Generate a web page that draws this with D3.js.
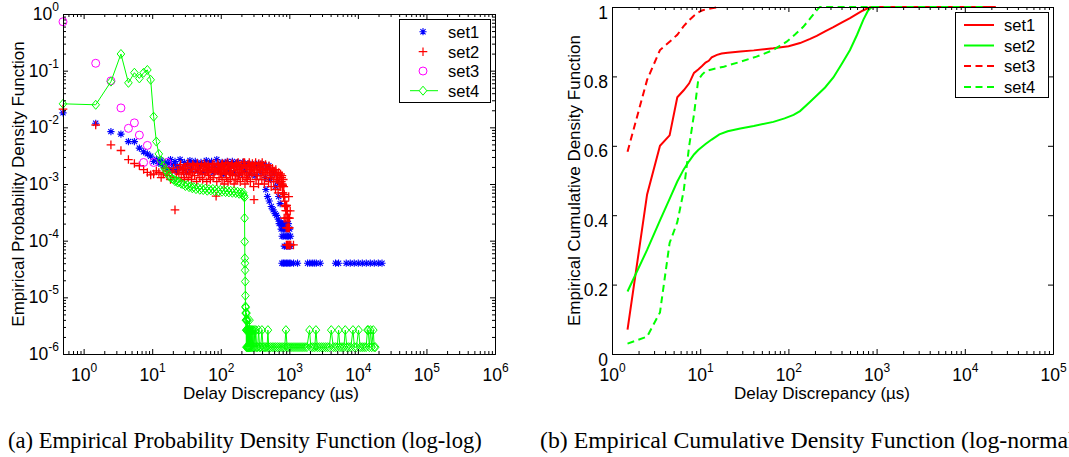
<!DOCTYPE html>
<html>
<head>
<meta charset="utf-8">
<script src="https://cdn.jsdelivr.net/npm/d3@7"></script>
<style>
  body { margin: 0; background: #fff; }
  svg { display: block; }
  text { font-family: "Liberation Sans", Arial, Helvetica, sans-serif; fill: #000; }
  .caption { font-family: "Liberation Serif", "Times New Roman", serif; }
</style>
</head>
<body>
<div id="chart"></div>
<script>
// ---- data ----
// (a) empirical pdf, [delay us, density]
const pdfSet1 = [[0.5,0.018],[1.5,0.0118],[2.5,0.0084],[3.5,0.0076],[4.5,0.0056],[5.5,0.0056],[6.5,0.0043],[7.5,0.0037],[8.5,0.0034],[9.5,0.0031],
  [10.5,0.0025],[11.5,0.0027],[12.5,0.0023],[13.5,0.0026],[14.5,0.0021],[15.5,0.0024],[16.5,0.0019],[17.5,0.0023],[18.5,0.0027],[19.5,0.0018],
  [20.5,0.0022],[21.5,0.0025],[22.5,0.0017],[23.5,0.0021],[25.5,0.0027],[27.5,0.0019],[29.5,0.0024],[31.5,0.0016],[33.5,0.0022],[35.5,0.0026],
  [37.5,0.0018],[39.5,0.0023],[42.5,0.0025],[45.5,0.0017],[48.5,0.0021],[51.5,0.0024],[54.5,0.0016],[57.5,0.0022],[61.5,0.0026],[65.5,0.0018],
  [69.5,0.0023],[73.5,0.0025],[77.5,0.0016],[82.5,0.0021],[87.5,0.0027],[92.5,0.0017],[98.5,0.0022],[104.5,0.0024],[110.5,0.0015],[117.5,0.0023],
  [124.5,0.0025],[131.5,0.0017],[139.5,0.0021],[147.5,0.0025],[156.5,0.0016],[165.5,0.0022],[175.5,0.0024],[186.5,0.0015],[197.5,0.0021],[209.5,0.0024],
  [222.5,0.0017],[235.5,0.0022],[249.5,0.0023],[264.5,0.0015],[280.5,0.0021],[297.5,0.0022],[315.5,0.0014],[334.5,0.0021],[354.5,0.0023],[375.5,0.0016],
  [398.5,0.0021],[422.5,0.0022],[447.5,0.0013],[455.5,0.0008],[474.5,0.0019],[480.5,0.0006],[502.5,0.0021],[510.5,0.0005],[532.5,0.0012],[545.5,0.0004],
  [564.5,0.0017],[580.5,0.00035],[598.5,0.0015],[620.5,0.0003],[634.5,0.0009],[650.5,0.00028],[672.5,0.0011],[690.5,0.00024],[700.5,0.0006],[712.5,0.0002],
  [735.5,0.00045],[748.5,0.0002],[760.5,0.00016],[772.5,0.0002],[785.5,0.00012],[800.5,0.0002],[815.5,0.00016],[830.5,0.00012],[845.5,0.00008],[860.5,0.00016],
  [875.5,0.0002],[890.5,0.00012],[905.5,0.00008],[920.5,0.00016],[935.5,0.00012],[950.5,0.00008],[965.5,0.0002],[980.5,0.00012],[995.5,0.00008],[1010.5,0.00016],
  [1025.5,0.00008],[1040.5,0.00012],
  [780.5,4e-5],[820.5,4e-5],[860.5,4e-5],[905.5,4e-5],[950.5,4e-5],[1000.5,4e-5],[1050.5,4e-5],[1152.5,4e-5],[1318.5,4e-5],[1846.5,4e-5],
  [1990.5,4e-5],[2158.5,4e-5],[2310.5,4e-5],[2470.5,4e-5],[2825.5,4e-5],[4720.5,4e-5],[5225.5,4e-5],[6765.5,4e-5],[7740.5,4e-5],[8850.5,4e-5],
  [10140.5,4e-5],[11600.5,4e-5],[13260.5,4e-5],[15180.5,4e-5],[17350.5,4e-5],[19860.5,4e-5],[22480.5,4e-5]];

const pdfSet2 = [[0.5,0.021],[1.5,0.011],[2.5,0.0049],[3.5,0.0039],[4.5,0.0027],[5.5,0.0023],[6.5,0.0021],[7.5,0.0018],[8.5,0.0016],[9.5,0.00145],
  [10.5,0.0015],[11.5,0.0017],[12.5,0.0016],[13.5,0.0013],[14.5,0.0015],[15.5,0.0019],[16.5,0.0014],[17.5,0.0017],[18.5,0.0012],[19.5,0.0016],
  [20.5,0.0019],[21.5,0.00035],[22.5,0.0013],[23.5,0.0017],[24.5,0.0015],[25.5,0.002],[26.5,0.0013],[27.5,0.0018],[28.5,0.0016],[29.5,0.0012],
  [30.5,0.0019],[31.5,0.0015],[32.5,0.0021],[33.5,0.0013],[34.5,0.0017],[36.5,0.0019],[37.5,0.0012],[38.5,0.0016],[40.5,0.0021],[41.5,0.0014],
  [43.5,0.0018],[44.5,0.0011],[46.5,0.0016],[47.5,0.002],[49.5,0.0013],[51.5,0.0017],[52.5,0.0022],[54.5,0.0012],[56.5,0.0019],[58.5,0.0015],
  [60.5,0.0021],[62.5,0.0011],[64.5,0.0017],[66.5,0.0014],[68.5,0.002],[70.5,0.0012],[72.5,0.0018],[75.5,0.0022],[77.5,0.0013],[80.5,0.0016],
  [82.5,0.0019],[85.5,0.00061],[87.5,0.0011],[89.5,0.0017],[92.5,0.0021],[94.5,0.0013],[97.5,0.0018],[99.5,0.0015],[102.5,0.0022],[104.5,0.0012],
  [107.5,0.0017],[110.5,0.002],[112.5,0.001],[115.5,0.0015],[118.5,0.0023],[121.5,0.0013],[124.5,0.0018],[127.5,0.0011],[130.5,0.0021],[134.5,0.0016],
  [137.5,0.0012],[141.5,0.0019],[144.5,0.0022],[148.5,0.0014],[152.5,0.0017],[156.5,0.001],[160.5,0.002],[164.5,0.0015],[168.5,0.0023],[173.5,0.0012],
  [177.5,0.0018],[182.5,0.0014],[187.5,0.0021],[192.5,0.0011],[197.5,0.0017],[202.5,0.0019],[208.5,0.0013],[213.5,0.0024],[219.5,0.0015],[225.5,0.001],
  [231.5,0.002],[237.5,0.0016],[243.5,0.0012],[250.5,0.0022],[256.5,0.0014],[263.5,0.0018],[270.5,0.0011],[278.5,0.0021],[285.5,0.0015],[293.5,0.0019],
  [301.5,0.0009],[305.5,0.00053],[309.5,0.0017],[318.5,0.0022],[327.5,0.0012],[336.5,0.0016],[345.5,0.002],[355.5,0.001],[365.5,0.0018],[375.5,0.0014],
  [386.5,0.0022],[397.5,0.0012],[408.5,0.0017],[420.5,0.0021],[432.5,0.001],[444.5,0.0015],[457.5,0.0019],[470.5,0.0013],[484.5,0.0018],[498.5,0.0011],
  [512.5,0.0016],[527.5,0.0019],[543.5,0.0009],[559.5,0.0014],[575.5,0.0017],[592.5,0.0011],[610.5,0.0015],[628.5,0.0008],[647.5,0.0012],[666.5,0.0014],
  [686.5,0.0007],[707.5,0.0011],[728.5,0.0009],[750.5,0.0009],[772.5,0.0013],[785.5,0.001],[795.5,0.0007],[810.5,0.0007],[825.5,0.00059],[840.5,0.00025],
  [855.5,0.00042],[870.5,0.00025],[885.5,0.00034],[900.5,0.000168],[915.5,0.00042],[930.5,0.000252],[945.5,0.000168],[960.5,0.000252],[975.5,0.000168],[980.5,0.0006],
  [1000.5,0.000168],[1030.5,0.000336],[905.5,0.000084],[935.5,0.000084],[960.5,0.000084],[990.5,0.000084],[1015.5,0.000084],[1050.5,0.000084],[1150.5,0.000084],
  [26,0.0022],[29,0.0019],[33,0.0023],[35.5,0.0015],[39,0.0022],[42.5,0.0018],[45.5,0.0023],[50.5,0.0019],[53.5,0.0015],[57.5,0.0023],
  [61.5,0.0018],[65.5,0.0022],[69.5,0.0016],[74.5,0.0019],[79.5,0.0023],[84.5,0.0017],[90.5,0.0023],[96.5,0.0019],[101.5,0.0016],[106.5,0.0023],
  [113.5,0.0019],[119.5,0.0016],[126.5,0.0024],[132.5,0.0019],[139.5,0.0015],[146.5,0.0023],[154.5,0.0019],[162.5,0.0012],[170.5,0.0021],[179.5,0.0024],
  [189.5,0.0016],[199.5,0.0022],[210.5,0.0019],[222.5,0.0024],[234.5,0.0013],[247.5,0.0021],[260.5,0.0024],[274.5,0.0017],[289.5,0.0023],[305.5,0.002],
  [322.5,0.0024],[340.5,0.0014],[359.5,0.0023],[380.5,0.0019],[402.5,0.0024],[425.5,0.0016],[450.5,0.0022],[477.5,0.0018],[505.5,0.0021],[535.5,0.0013],
  [566.5,0.0019],[600.5,0.0017],[635.5,0.0018],[672.5,0.0012],[700.5,0.0016],[725.5,0.0013],[745.5,0.0015],[765.5,0.0011],[780.5,0.0014],[800.5,0.00095],
  [815.5,0.0012],[830.5,0.0009],[845.5,0.00065],[860.5,0.0005],[880.5,0.0004],[895.5,0.00042],[910.5,0.00034],[925.5,0.00025],[940.5,0.00034],[955.5,0.00017],
  [970.5,0.00025],[985.5,0.00017],[1010.5,0.00025]];

const pdfSet3 = [[0.5,0.73],[1.5,0.135],[2.5,0.066],[3.5,0.022],[4.5,0.0096],[5.5,0.012],[6.5,0.0073],[7.5,0.0024],[8.5,0.0048],[10.5,0.0024],[16.5,0.0024]];

const pdfSet4 = [[0.5,0.026],[1.5,0.025],[2.5,0.064],[3.5,0.197],[4.5,0.061],[5.5,0.092],[6.5,0.073],[7.5,0.092],[8.5,0.103],[9.5,0.069],
  [10.5,0.0154],[11.5,0.0056],[12.5,0.0034],[13.5,0.0026],[14.5,0.0021],[15.5,0.0018],[16.5,0.0016],[17.5,0.0014],[18.5,0.0013],[19.5,0.00125],
  [20.5,0.0012],[21.5,0.00112],[22.5,0.00115],[23.5,0.00106],[24.5,0.0011],[26.5,0.00101],[28.5,0.00098],[30.5,0.00092],[32.5,0.00096],[34.5,0.00088],
  [36.5,0.00091],[38.5,0.00084],[40.5,0.00088],[43.5,0.00081],[46.5,0.00086],[49.5,0.00079],[52.5,0.00084],[55.5,0.00078],[59.5,0.00083],[63.5,0.00076],
  [67.5,0.00081],[71.5,0.00077],[76.5,0.00082],[81.5,0.00075],[86.5,0.0008],[92.5,0.00074],[98.5,0.00079],[104.5,0.00073],[110.5,0.00078],[117.5,0.00072],
  [124.5,0.00077],[131.5,0.00071],[139.5,0.00076],[147.5,0.0007],[156.5,0.00075],[165.5,0.00069],[175.5,0.00073],[185.5,0.00067],[195.5,0.00071],[205.5,0.00065],
  [212.5,0.0007],[218.5,0.00062],[221.5,0.00058],[222.5,0.00025],[223.5,9.6e-5],[224.5,4.9e-5],[225.5,4e-5],[226.5,3e-5],[227.5,1.9e-5],[228.5,1.07e-5],
  [229.5,6.9e-6],[230.5,5.28e-6],[231.5,6.6e-6],[232.5,3.96e-6],[233.5,5.28e-6],[234.5,2.64e-6],[235.5,3.96e-6],[236.5,1.32e-6],[237.5,5.28e-6],[239.5,2.64e-6],
  [240.5,3.96e-6],[241.5,1.32e-6],[243.5,2.64e-6],[245.5,1.32e-6],[246.5,3.96e-6],[248.5,1.32e-6],[249.5,2.64e-6],[251.5,1.32e-6],[253.5,2.64e-6],[255.5,1.32e-6],
  [257.5,2.64e-6],[259.5,1.32e-6],[262.5,3.96e-6],[264.5,1.32e-6],[267.5,2.64e-6],[270.5,1.32e-6],[274.5,2.64e-6],[278.5,1.32e-6],[283.5,2.64e-6],[288.5,1.32e-6],
  [294.5,2.64e-6],[300.5,1.32e-6],[307.5,2.64e-6],[315.5,1.32e-6],[324.5,2.64e-6],[333.5,1.32e-6],[345.5,1.32e-6],[356.5,2.64e-6],[368.5,1.32e-6],[382.5,1.32e-6],
  [398.5,2.64e-6],[414.5,1.32e-6],[432.5,1.32e-6],[452.5,1.32e-6],[473.5,1.32e-6],[487.5,2.64e-6],[500.5,1.32e-6],[530.5,1.32e-6],[562.5,1.32e-6],[596.5,1.32e-6],
  [632.5,1.32e-6],[670.5,1.32e-6],[712.5,1.32e-6],[757.5,1.32e-6],[805.5,1.32e-6],[855.5,1.32e-6],[892.5,2.64e-6],[930.5,1.32e-6],[990.5,1.32e-6],[1059.5,1.32e-6],
  [1133.5,1.32e-6],[1210.5,1.32e-6],[1295.5,1.32e-6],[1385.5,1.32e-6],[1480.5,1.32e-6],[1580.5,1.32e-6],[1690.5,1.32e-6],[1805.5,1.32e-6],[1972.5,2.64e-6],[2060.5,1.32e-6],
  [2200.5,1.32e-6],[2350.5,1.32e-6],[2445.5,2.64e-6],[2560.5,1.32e-6],[2740.5,1.32e-6],[2930.5,1.32e-6],[3130.5,1.32e-6],[3350.5,1.32e-6],[3580.5,1.32e-6],[3830.5,1.32e-6],
  [4090.5,2.64e-6],[4380.5,1.32e-6],[4680.5,1.32e-6],[5000.5,1.32e-6],[5230.5,2.64e-6],[5480.5,1.32e-6],[5860.5,1.32e-6],[6260.5,1.32e-6],[6545.5,2.64e-6],[6900.5,1.32e-6],
  [7370.5,1.32e-6],[7880.5,1.32e-6],[8480.5,2.64e-6],[8900.5,1.32e-6],[9520.5,1.32e-6],[10230.5,2.64e-6],[10800.5,1.32e-6],[11550.5,1.32e-6],[12350.5,1.32e-6],[13200.5,1.32e-6],
  [13800.5,2.64e-6],[14190.5,2.64e-6],[14700.5,1.32e-6],[15300.5,2.64e-6],[15900.5,1.32e-6],[16790.5,2.64e-6],[17300.5,1.32e-6],[17950.5,1.32e-6]];

// (b) empirical cdf, [delay us, F]
const cdfSet1 = [[1.5,0.07],[2.5,0.46],[3.5,0.6],[4.5,0.63],[5.5,0.74],[6.5,0.76],[7.5,0.78],[8.5,0.81],[9.5,0.82],[10.5,0.83],
  [11.5,0.84],[12.5,0.845],[13.5,0.855],[15.5,0.862],[17.5,0.866],[20.5,0.868],[28.5,0.872],[40.5,0.875],[67.5,0.881],[100.5,0.887],
  [135.5,0.896],[176.5,0.908],[209.5,0.917],[260.5,0.93],[323.5,0.942],[400.5,0.955],[499.5,0.968],[600.5,0.98],[700.5,0.99],[841.5,0.999],
  [1000.5,1],[22480.5,1]];
const cdfSet2 = [[1.5,0.18],[2.5,0.3],[3.5,0.385],[4.5,0.447],[5.5,0.497],[6.5,0.532],[7.5,0.556],[8.5,0.575],[9.5,0.588],[11.5,0.605],
  [13.5,0.618],[16.5,0.633],[20.5,0.642],[28.5,0.65],[40.5,0.657],[67.5,0.669],[90.5,0.679],[114.5,0.689],[135.5,0.7],[176.5,0.727],
  [209.5,0.745],[260.5,0.768],[323.5,0.797],[400.5,0.835],[499.5,0.876],[600.5,0.92],[706.5,0.963],[800.5,0.99],[880.5,1],[1050.5,1]];
const cdfSet3 = [[1.5,0.583],[2.5,0.79],[3.5,0.876],[4.5,0.9],[5.5,0.92],[6.5,0.945],[7.5,0.962],[8.5,0.975],[9.5,0.984],[10.5,0.99],
  [11.5,0.993],[13.5,0.996],[16.5,1]];
const cdfSet4 = [[1.5,0.03],[2.5,0.05],[3.5,0.12],[4.5,0.32],[5.5,0.38],[6.5,0.47],[7.5,0.6],[8.5,0.69],[9.5,0.79],[10.5,0.805],
  [11.5,0.815],[13.5,0.82],[18.5,0.828],[28.5,0.842],[43.5,0.857],[67.5,0.876],[95.5,0.9],[120.5,0.922],[147.5,0.943],[176.5,0.967],
  [200.5,0.985],[222.5,0.998],[228.5,1],[17950.5,1]];

const pdfXTicks = [1, 10, 100, 1e3, 1e4, 1e5, 1e6];
const pdfYTicks = [1e-6, 1e-5, 1e-4, 1e-3, 1e-2, 1e-1, 1];
const cdfXTicks = [1, 10, 100, 1e3, 1e4, 1e5];
const cdfYTicks = [0, 0.2, 0.4, 0.6, 0.8, 1];
const seriesNames = ['set1', 'set2', 'set3', 'set4'];
const xTitle = 'Delay Discrepancy (\u00b5s)';
const pdfYTitle = 'Empirical Probability Density Function';
const cdfYTitle = 'Empirical Cumulative Density Function';
const captions = ['(a) Empirical Probability Density Function (log-log)',
                  '(b) Empirical Cumulative Density Function (log-normal)'];

// ---- drawing ----
const svg = d3.select('#chart').append('svg').attr('width', 1069).attr('height', 457);
svg.append('rect').attr('width', 1069).attr('height', 457).attr('fill', '#fff');

const xPdf = d3.scaleLog().domain([0.5, 1e6]).range([63, 495]);
const yPdf = d3.scaleLog().domain([1e-6, 1]).range([354, 14]);
const xCdf = d3.scaleLog().domain([1, 1e5]).range([612, 1053]);
const yCdf = d3.scaleLinear().domain([0, 1]).range([354, 7]);

const starPath = 'M-3.6,0H3.6M0,-3.6V3.6M-2.6,-2.6L2.6,2.6M-2.6,2.6L2.6,-2.6';
const plusPath = 'M-4.3,0H4.3M0,-4.3V4.3';
const diamondPath = 'M0,-4.5L3.8,0L0,4.5L-3.8,0Z';

function minorTicks(scale) {
  const [a, b] = scale.domain();
  const out = [];
  for (let e = Math.floor(Math.log10(a)); e < Math.ceil(Math.log10(b)); e++) {
    for (let k = 2; k < 10; k++) {
      const v = k * Math.pow(10, e);
      if (v >= a && v <= b) out.push(v);
    }
  }
  return out;
}

function drawFrame(x, y, xMajor, xMinor, yMajor, yMinor) {
  const [x0, x1] = x.range();
  const [yb, yt] = y.range();
  const g = svg.append('g').attr('class', 'frame');
  const add = (axis, tx, ty, vals, size) => {
    g.append('g').attr('transform', `translate(${tx},${ty})`)
      .call(axis.tickValues(vals).tickSizeInner(-size).tickSizeOuter(0).tickFormat(''))
      .selectAll('text').remove();
  };
  add(d3.axisBottom(x), 0, yb, xMajor, 5);
  add(d3.axisTop(x), 0, yt, xMajor, 5);
  add(d3.axisLeft(y), x0, 0, yMajor, 5);
  add(d3.axisRight(y), x1, 0, yMajor, 5);
  if (xMinor.length) {
    add(d3.axisBottom(x), 0, yb, xMinor, 3);
    add(d3.axisTop(x), 0, yt, xMinor, 3);
  }
  if (yMinor.length) {
    add(d3.axisLeft(y), x0, 0, yMinor, 3);
    add(d3.axisRight(y), x1, 0, yMinor, 3);
  }
}

function powerLabel(t, d) {
  const e = Math.round(Math.log10(d));
  t.text(null).attr('dy', null);
  t.append('tspan').text('10');
  t.append('tspan').attr('dy', -9).attr('font-size', 12).text(e);
}

function xLabels(x, yb, vals, fmt) {
  const g = svg.append('g').attr('transform', `translate(0,${yb})`)
    .call(d3.axisBottom(x).tickValues(vals).tickSize(0).tickFormat(''));
  g.select('.domain').remove();
  g.attr('font-size', 17.5).attr('font-family', null);
  g.selectAll('.tick text').each(function(d) {
    const t = d3.select(this).attr('y', 26.5).attr('text-anchor', 'middle');
    fmt(t, d);
  });
}

function yLabels(y, x0, vals, fmt) {
  const g = svg.append('g').attr('transform', `translate(${x0},0)`)
    .call(d3.axisLeft(y).tickValues(vals).tickSize(0).tickFormat(''));
  g.select('.domain').remove();
  g.attr('font-size', 17.5).attr('font-family', null);
  g.selectAll('.tick text').each(function(d) {
    const t = d3.select(this).attr('x', -4).attr('y', 5.5).attr('text-anchor', 'end');
    fmt(t, d);
  });
}

// ---- panel (a) ----
const pa = svg.append('g');
pa.selectAll('path.s1').data(pdfSet1).join('path').attr('class', 's1')
  .attr('transform', d => `translate(${xPdf(d[0])},${yPdf(d[1])})`)
  .attr('d', starPath).attr('fill', 'none').attr('stroke', '#0000ff').attr('stroke-width', 1.1);
pa.selectAll('path.s2').data(pdfSet2).join('path').attr('class', 's2')
  .attr('transform', d => `translate(${xPdf(d[0])},${yPdf(d[1])})`)
  .attr('d', plusPath).attr('fill', 'none').attr('stroke', '#ff0000').attr('stroke-width', 1.3);
pa.selectAll('circle.s3').data(pdfSet3).join('circle').attr('class', 's3')
  .attr('cx', d => xPdf(d[0])).attr('cy', d => yPdf(d[1])).attr('r', 4)
  .attr('fill', 'none').attr('stroke', '#ff00ff').attr('stroke-width', 1);
pa.append('path').datum(pdfSet4)
  .attr('d', d3.line().x(d => xPdf(d[0])).y(d => yPdf(d[1])))
  .attr('fill', 'none').attr('stroke', '#00ff00').attr('stroke-width', 1);
pa.selectAll('path.s4').data(pdfSet4).join('path').attr('class', 's4')
  .attr('transform', d => `translate(${xPdf(d[0])},${yPdf(d[1])})`)
  .attr('d', diamondPath).attr('fill', 'none').attr('stroke', '#00ff00').attr('stroke-width', 1);

drawFrame(xPdf, yPdf, pdfXTicks, minorTicks(xPdf), pdfYTicks, minorTicks(yPdf));
xLabels(xPdf, 354, pdfXTicks, powerLabel);
yLabels(yPdf, 63, pdfYTicks, powerLabel);

svg.append('text').attr('x', 271).attr('y', 399).attr('text-anchor', 'middle')
  .attr('font-size', 17).text(xTitle);
svg.append('text').attr('transform', 'translate(24,184) rotate(-90)').attr('text-anchor', 'middle')
  .attr('font-size', 17).text(pdfYTitle);

// legend (a)
const la = svg.append('g');
la.append('rect').attr('x', 399.5).attr('y', 19.5).attr('width', 91).attr('height', 83)
  .attr('fill', '#fff').attr('stroke', '#000').attr('stroke-width', 1);
const legY_a = [31.7, 51.7, 71, 90.7];
la.append('path').attr('d', starPath).attr('transform', `translate(423,${legY_a[0]})`)
  .attr('fill', 'none').attr('stroke', '#0000ff').attr('stroke-width', 1.1);
la.append('path').attr('d', plusPath).attr('transform', `translate(423,${legY_a[1]})`)
  .attr('fill', 'none').attr('stroke', '#ff0000').attr('stroke-width', 1.2);
la.append('circle').attr('cx', 423).attr('cy', legY_a[2]).attr('r', 4)
  .attr('fill', 'none').attr('stroke', '#ff00ff');
la.append('line').attr('x1', 410).attr('x2', 438).attr('y1', legY_a[3]).attr('y2', legY_a[3])
  .attr('stroke', '#00ff00');
la.append('path').attr('d', diamondPath).attr('transform', `translate(423,${legY_a[3]})`)
  .attr('fill', '#fff').attr('stroke', '#00ff00');
seriesNames.forEach((n, i) => {
  la.append('text').attr('x', 448).attr('y', legY_a[i] + 6).attr('font-size', 16.5).text(n);
});

// ---- panel (b) ----
const cdfStyles = [
  { data: cdfSet1, color: '#ff0000', dash: null },
  { data: cdfSet2, color: '#00ff00', dash: null },
  { data: cdfSet3, color: '#ff0000', dash: '7,4.5' },
  { data: cdfSet4, color: '#00ff00', dash: '7,4.5' }
];
const cdfLine = d3.line().x(d => xCdf(d[0])).y(d => yCdf(d[1]));
const pb = svg.append('g');
cdfStyles.forEach(s => {
  pb.append('path').datum(s.data).attr('d', cdfLine)
    .attr('fill', 'none').attr('stroke', s.color).attr('stroke-width', 2)
    .attr('stroke-dasharray', s.dash);
});

drawFrame(xCdf, yCdf, cdfXTicks, minorTicks(xCdf), cdfYTicks, []);
xLabels(xCdf, 354, cdfXTicks, powerLabel);
yLabels(yCdf, 612, cdfYTicks, (t, d) => t.text(String(d)));

svg.append('text').attr('x', 822).attr('y', 399).attr('text-anchor', 'middle')
  .attr('font-size', 17).text(xTitle);
svg.append('text').attr('transform', 'translate(580,180.5) rotate(-90)').attr('text-anchor', 'middle')
  .attr('font-size', 17).text(cdfYTitle);

// legend (b)
const lb = svg.append('g');
lb.append('rect').attr('x', 955.5).attr('y', 12.5).attr('width', 93).attr('height', 85)
  .attr('fill', '#fff').attr('stroke', '#000').attr('stroke-width', 1);
const legY_b = [25, 45.5, 66, 87];
cdfStyles.forEach((s, i) => {
  lb.append('line').attr('x1', 964).attr('x2', 994).attr('y1', legY_b[i]).attr('y2', legY_b[i])
    .attr('stroke', s.color).attr('stroke-width', 2).attr('stroke-dasharray', s.dash);
  lb.append('text').attr('x', 1004).attr('y', legY_b[i] + 6).attr('font-size', 16.5).text(seriesNames[i]);
});

// ---- captions ----
svg.append('text').attr('class', 'caption').attr('x', 8).attr('y', 448).attr('font-size', 22.6).text(captions[0]);
svg.append('text').attr('class', 'caption').attr('x', 540).attr('y', 448).attr('font-size', 23.8).text(captions[1]);
</script>
</body>
</html>
